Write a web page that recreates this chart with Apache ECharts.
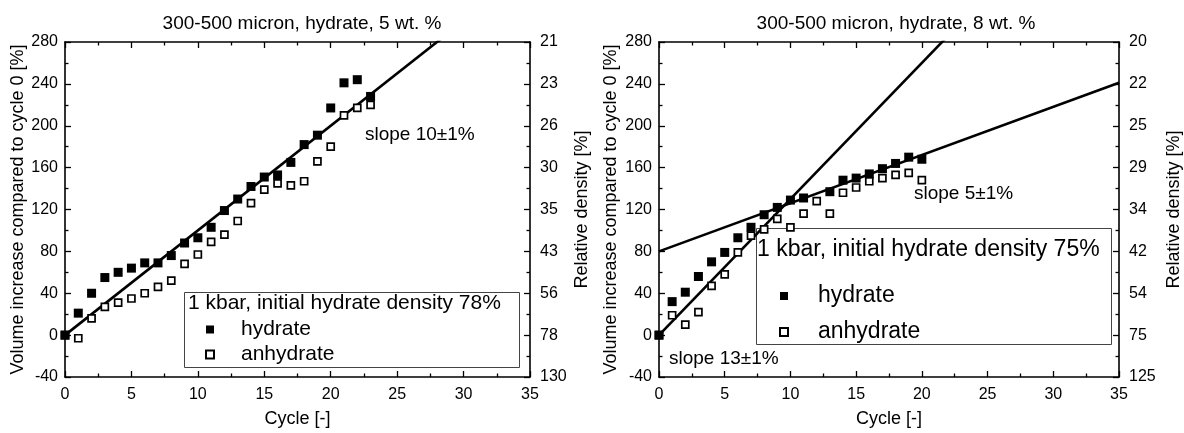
<!DOCTYPE html>
<html><head><meta charset="utf-8">
<script src="https://cdn.jsdelivr.net/npm/echarts@6/dist/echarts.min.js"></script>
<style>html,body{margin:0;padding:0;background:#fff}#c{width:1184px;height:433px}</style>
</head><body><div id="c"></div>
<script>
// ---------- data ----------
const titles = ['300-500 micron, hydrate, 5 wt. %', '300-500 micron, hydrate, 8 wt. %'];
const legendHeadings = ['1 kbar, initial hydrate density 78%', '1 kbar, initial hydrate density 75%'];
const seriesNames = ['hydrate', 'anhydrate'];

const cyclesA = [0,1,2,3,4,5,6,7,8,9,10,11,12,13,14,15,16,17,18,19,20,21,22,23];
const hydrateA = [0,21,40,55,60,64,69,69,76,88,93,103,119,130,142,151,153,165,182,191,217,241,244,228];
const anhydrateA = [0,-3,16,27,31,35,40,46,52,68,77,89,96,109,126,139,145,143,147,166,180,210,217,220];

const cyclesB = [0,1,2,3,4,5,6,7,8,9,10,11,12,13,14,15,16,17,18,19,20];
const hydrateB = [0,32,41,56,70,79,93,103,115,122,129,131,null,137,148,150,154,159,164,170,168];
const anhydrateB = [0,19,10,22,47,58,79,95,101,111,103,116,128,116,136,141,147,150,153,155,148];

const fitA = [{slope: 10, intercept: 0}];
const fitB = [{slope: 13, intercept: 0}, {slope: 4.6, intercept: 80}];
const slopeLabelsA = ['slope 10\u00b11%'];
const slopeLabelsB = ['slope 5\u00b11%', 'slope 13\u00b11%'];

const xMin = 0, xMax = 35, xStep = 5;
const yMin = -40, yMax = 280, yStep = 40;
const densityLabelsA = ['130','78','56','43','35','30','26','23','21'];
const densityLabelsB = ['125','75','54','42','34','29','25','22','20'];

const xName = 'Cycle [-]';
const yNameLeft = 'Volume increase compared to cycle 0 [%]';
const yNameRight = 'Relative density [%]';

// ---------- helpers ----------
const FONT = '"Liberation Sans", Arial, sans-serif';
const pairs = (xs, ys) => xs.map((x, i) => [x, ys[i]]).filter(p => p[1] !== null);
const fitLine = f => [[xMin, f.intercept], [xMax, f.intercept + f.slope * xMax]];

const axisLineStyle = {onZero: false, lineStyle: {color: '#000', width: 1.6}};
const tickStyle = {inside: true, length: 6, lineStyle: {color: '#000', width: 1.3}};
const minorStyle = {show: true, splitNumber: 2, length: 3.5, lineStyle: {color: '#000', width: 1.3}};
const labelStyle = {color: '#000', fontSize: 16, fontFamily: FONT};

function xAxes(gridIndex) {
  return [
    {type: 'value', gridIndex, min: xMin, max: xMax, interval: xStep, position: 'bottom',
     axisLine: axisLineStyle, axisTick: tickStyle, minorTick: minorStyle, splitLine: {show: false},
     axisLabel: Object.assign({margin: 10}, labelStyle),
     name: xName, nameLocation: 'middle', nameGap: 33,
     nameTextStyle: {color: '#000', fontSize: 18, fontFamily: FONT}},
    {type: 'value', gridIndex, min: xMin, max: xMax, interval: xStep, position: 'top',
     axisLine: axisLineStyle, axisTick: tickStyle, minorTick: minorStyle, splitLine: {show: false},
     axisLabel: {show: false}}
  ];
}
function yAxes(gridIndex, labels, gapL, gapR) {
  return [
    {type: 'value', gridIndex, min: yMin, max: yMax, interval: yStep, position: 'left',
     axisLine: axisLineStyle, axisTick: tickStyle, minorTick: minorStyle, splitLine: {show: false},
     axisLabel: Object.assign({margin: 7}, labelStyle),
     name: yNameLeft, nameLocation: 'middle', nameGap: gapL, nameRotate: 90,
     nameTextStyle: {color: '#000', fontSize: 18, fontFamily: FONT}},
    {type: 'value', gridIndex, min: yMin, max: yMax, interval: yStep, position: 'right',
     axisLine: axisLineStyle, axisTick: tickStyle, minorTick: minorStyle, splitLine: {show: false},
     axisLabel: Object.assign({margin: 10, formatter: v => labels[Math.round((v - yMin) / yStep)]}, labelStyle),
     name: yNameRight, nameLocation: 'middle', nameGap: gapR, nameRotate: 90,
     nameTextStyle: {color: '#000', fontSize: 18, fontFamily: FONT}}
  ];
}

const hydrateStyle = {symbol: 'rect', symbolSize: 9, itemStyle: {color: '#000', borderColor: '#000', borderWidth: 0, opacity: 1}};
const anhydrateStyle = {symbol: 'rect', symbolSize: 7, itemStyle: {color: '#fff', borderColor: '#000', borderWidth: 1.7, opacity: 1}};

function lineSeries(f, xi, yi) {
  return {type: 'line', xAxisIndex: xi, yAxisIndex: yi, data: fitLine(f), showSymbol: false, symbol: 'none',
          clip: true, silent: true, lineStyle: {color: '#000', width: 2.6}, z: 2, legendHoverLink: false};
}
function scatterSeries(name, data, style, xi, yi) {
  return Object.assign({type: 'scatter', name, data, xAxisIndex: xi, yAxisIndex: yi, z: 3, silent: true}, style);
}

const series = [];
fitA.forEach(f => series.push(lineSeries(f, 0, 0)));
fitB.forEach(f => series.push(lineSeries(f, 2, 2)));
series.push(scatterSeries(seriesNames[1], pairs(cyclesA, anhydrateA), anhydrateStyle, 0, 0));
series.push(scatterSeries(seriesNames[0], pairs(cyclesA, hydrateA), hydrateStyle, 0, 0));
series.push(scatterSeries(seriesNames[1], pairs(cyclesB, anhydrateB), anhydrateStyle, 2, 2));
series.push(scatterSeries(seriesNames[0], pairs(cyclesB, hydrateB), hydrateStyle, 2, 2));

function legendBlock(left, top, fontSize, lineHeight, gap, pad) {
  return {orient: 'vertical', left, top, itemWidth: 8, itemHeight: 8, itemGap: gap,
          selectedMode: false, data: seriesNames.map(n => ({name: n, icon: 'rect'})),
          textStyle: {color: '#000', fontSize, fontFamily: FONT, lineHeight, padding: [0, 0, 0, pad]}};
}

const textStyleBase = {fill: '#000', fontFamily: FONT};
const option = {
  animation: false,
  backgroundColor: '#fff',
  title: [
    {text: titles[0], left: 297, top: 9, textAlign: 'center', textStyle: {color: '#000', fontSize: 19, fontWeight: 'normal', fontFamily: FONT}},
    {text: titles[1], left: 891, top: 9, textAlign: 'center', textStyle: {color: '#000', fontSize: 19, fontWeight: 'normal', fontFamily: FONT}}
  ],
  grid: [
    {left: 65, right: 654, top: 42, bottom: 50, containLabel: false},
    {left: 659, right: 61, top: 42, bottom: 50, containLabel: false}
  ],
  xAxis: [...xAxes(0), ...xAxes(1)],
  yAxis: [...yAxes(0, densityLabelsA, 30, 43), ...yAxes(1, densityLabelsB, 39, 46)],
  legend: [legendBlock(200, 314, 21, 20, 4, 22), legendBlock(774, 279, 23, 24, 12, 25)],
  series,
  graphic: [
    {type: 'rect', left: 182, top: 290, shape: {width: 335, height: 75}, style: {fill: 'none', stroke: '#444', lineWidth: 1}, z: 1},
    {type: 'rect', left: 754, top: 226, shape: {width: 355, height: 116}, style: {fill: 'none', stroke: '#444', lineWidth: 1}, z: 1},
    {type: 'text', left: 188, top: 293, style: Object.assign({text: legendHeadings[0], fontSize: 21}, textStyleBase)},
    {type: 'text', left: 757, top: 238, style: Object.assign({text: legendHeadings[1], fontSize: 23}, textStyleBase)},
    {type: 'text', left: 365, top: 125, style: Object.assign({text: slopeLabelsA[0], fontSize: 19}, textStyleBase)},
    {type: 'text', left: 914, top: 184, style: Object.assign({text: slopeLabelsB[0], fontSize: 19}, textStyleBase)},
    {type: 'text', left: 669, top: 349, style: Object.assign({text: slopeLabelsB[1], fontSize: 19}, textStyleBase)}
  ]
};
const chart = echarts.init(document.getElementById('c'), null, {renderer: 'canvas'});
chart.setOption(option);
</script></body></html>
